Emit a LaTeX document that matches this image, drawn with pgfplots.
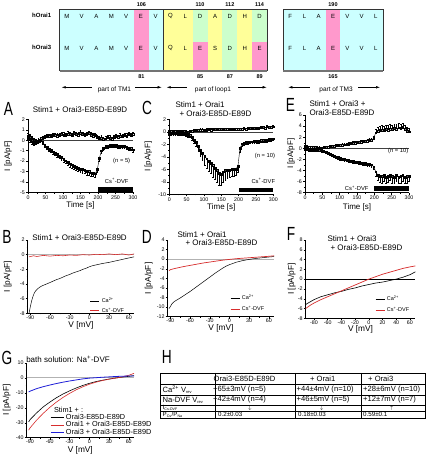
\documentclass[border=0pt]{standalone}
\usepackage{pgfplots}
\pgfplotsset{compat=1.18}
\usepackage{fontspec}
\setmainfont{Liberation Sans}
\usepackage{graphicx}
\usetikzlibrary{arrows.meta}
\definecolor{cyanbg}{RGB}{204,255,255}
\definecolor{pinkbg}{RGB}{255,153,204}
\definecolor{yelbg}{RGB}{255,255,153}
\definecolor{grnbg}{RGB}{204,255,204}
\definecolor{myred}{RGB}{215,45,45}
\definecolor{myblue}{RGB}{30,30,215}
\newcommand{\fs}[1]{\fontsize{#1}{#1}\selectfont}
\newcommand{\PL}[1]{\scalebox{0.72}[1]{\fs{19}#1}}
\pgfplotsset{
  panel/.style={scale only axis, anchor=south west, axis lines*=left,
    tick align=outside, major tick length=2pt, minor tick length=1.2pt,
    tick style={black, line width=0.4pt},
    axis line style={line width=0.5pt},
    tick label style={font=\fs{5.3}},
    label style={font=\fs{8}},
    /pgf/number format/assume math mode=true,
    xticklabel style={inner sep=1pt}, yticklabel style={inner sep=1pt},
    minor x tick num=1, minor y tick num=1,
    clip=false, ylabel={I [pA/pF]},
  },
  tc/.style={panel, xmin=0, xmax=300, xtick={0,50,...,300}, xlabel={Time [s]}},
  iv/.style={panel, xlabel={V [mV]}, label style={font=\fs{8.3}},
    xticklabel style={inner sep=1pt, yshift=1pt},
    legend cell align=left,
    legend image code/.code={\draw[##1] (0pt,0pt) -- (9pt,0pt);}},
  up/.style={black, line width=0.4pt, mark=square, mark size=0.9pt, mark options={solid, fill=white},
    error bars/.cd, y dir=plus, y explicit, error bar style={line width=0.35pt},
    error mark options={rotate=90, mark size=0.9pt, line width=0.35pt}},
  dn/.style={black, line width=0.4pt, mark=square, mark size=0.9pt, mark options={solid, fill=white},
    error bars/.cd, y dir=minus, y explicit, error bar style={line width=0.35pt},
    error mark options={rotate=90, mark size=0.9pt, line width=0.35pt}},
}
\begin{document}
\begin{tikzpicture}
\useasboundingbox (0,0) rectangle (432pt,457pt);
\fill[white] (0,0) rectangle (432pt,457pt);

% ---------------- Panel A ----------------
\begin{axis}[tc, at={(28pt,264.5pt)}, width=105pt, height=73.2pt, ymin=-5, ymax=2,
  ytick={-5,-4,...,2}, minor y tick num=0,
  ylabel style={at={([xshift=-20pt]axis description cs:0,0.5)}, anchor=center},
  xlabel style={at={([yshift=-12.5pt]axis description cs:0.5,0)}, anchor=center}]
\addplot[black!75, line width=0.4pt] coordinates {(0,0) (300,0)};
\addplot[up] table[row sep=\\, x index=0, y index=1, y error index=2]{
0 0.40 0.25\\ 6 0.30 0.25\\ 12 0.15 0.25\\ 18 0.00 0.2\\ 24 -0.10 0.2\\ 30 -0.05 0.2\\ 36 0.05 0.2\\ 42 0.20 0.2\\ 48 0.30 0.2\\ 54 0.35 0.2\\ 60 0.40 0.2\\ 66 0.35 0.2\\ 72 0.45 0.2\\ 78 0.50 0.2\\ 84 0.40 0.25\\ 90 0.45 0.2\\ 96 0.55 0.2\\ 102 0.50 0.25\\ 108 0.45 0.2\\ 114 0.60 0.25\\ 120 0.55 0.2\\ 126 0.45 0.25\\ 132 0.65 0.25\\ 138 0.55 0.2\\ 144 0.50 0.25\\ 150 0.70 0.25\\ 156 0.55 0.2\\ 162 0.45 0.25\\ 168 0.55 0.25\\ 174 0.65 0.2\\ 180 0.50 0.25\\ 186 0.40 0.25\\ 192 0.45 0.2\\ 198 0.25 0.25\\ 204 0.15 0.25\\ 210 0.20 0.25\\ 216 0.10 0.2\\ 222 0.15 0.25\\ 228 0.25 0.2\\ 234 0.20 0.25\\ 240 0.10 0.2\\ 246 0.25 0.25\\ 252 0.35 0.25\\ 258 0.30 0.2\\ 264 0.40 0.25\\ 270 0.35 0.25\\ 276 0.45 0.2\\ 282 0.40 0.25\\ 288 0.55 0.2\\ 294 0.45 0.25\\ 300 0.55 0.2\\
};
\addplot[dn] table[row sep=\\, x index=0, y index=1, y error index=2]{
0 0.20 0.2\\ 6 0.05 0.2\\ 12 -0.15 0.25\\ 18 -0.25 0.25\\ 24 -0.20 0.2\\ 30 -0.10 0.2\\ 36 0.00 0.2\\ 42 -0.20 0.2\\ 48 -0.45 0.2\\ 54 -0.65 0.2\\ 60 -0.85 0.2\\ 66 -0.95 0.2\\ 72 -1.10 0.2\\ 78 -1.25 0.2\\ 84 -1.35 0.25\\ 90 -1.50 0.25\\ 96 -1.65 0.25\\ 102 -1.85 0.25\\ 108 -1.95 0.25\\ 114 -2.10 0.25\\ 120 -2.25 0.3\\ 126 -2.35 0.3\\ 132 -2.45 0.3\\ 138 -2.60 0.3\\ 144 -2.70 0.3\\ 150 -2.75 0.35\\ 156 -2.80 0.35\\ 162 -2.90 0.3\\ 168 -3.00 0.35\\ 174 -3.00 0.3\\ 180 -3.10 0.35\\ 186 -3.15 0.3\\ 192 -3.20 0.35\\ 198 -2.80 0.3\\ 204 -1.70 0.3\\ 210 -1.00 0.25\\ 216 -0.75 0.2\\ 222 -0.60 0.2\\ 228 -0.55 0.2\\ 234 -0.50 0.2\\ 240 -0.50 0.2\\ 246 -0.45 0.2\\ 252 -0.50 0.2\\ 258 -0.55 0.2\\ 264 -0.55 0.2\\ 270 -0.60 0.2\\ 276 -0.60 0.2\\ 282 -0.70 0.2\\ 288 -0.75 0.2\\ 294 -0.80 0.2\\ 300 -0.90 0.2\\
};
\fill[black] (axis cs:200,-4.45) rectangle (axis cs:300,-4.92);
\end{axis}

% ---------------- Panel C ----------------
\begin{axis}[tc, at={(169.3pt,262.7pt)}, width=104pt, height=75pt, ymin=-10, ymax=2,
  ytick={-10,-8,...,2},
  ylabel style={at={([xshift=-21pt]axis description cs:0,0.5)}, anchor=center},
  xlabel style={at={([yshift=-12.7pt]axis description cs:0.5,0)}, anchor=center}]
\addplot[black!75, line width=0.4pt] coordinates {(0,0) (300,0)};
\addplot[up] table[row sep=\\, x index=0, y index=1, y error index=2]{
0 0.0 0.2\\ 6 0.1 0.2\\ 12 0.0 0.2\\ 18 0.1 0.2\\ 24 0.05 0.2\\ 30 0.1 0.2\\ 36 0.0 0.2\\ 42 0.1 0.2\\ 48 0.0 0.2\\ 54 -0.1 0.2\\ 60 0.0 0.2\\ 66 0.1 0.2\\ 72 0.2 0.2\\ 78 0.2 0.2\\ 84 0.25 0.2\\ 90 0.3 0.2\\ 96 0.3 0.2\\ 102 0.25 0.2\\ 108 0.3 0.2\\ 114 0.35 0.2\\ 120 0.3 0.2\\ 126 0.35 0.2\\ 132 0.4 0.2\\ 138 0.35 0.2\\ 144 0.4 0.2\\ 150 0.4 0.2\\ 156 0.35 0.2\\ 162 0.4 0.2\\ 168 0.45 0.2\\ 174 0.4 0.2\\ 180 0.45 0.2\\ 186 0.4 0.2\\ 192 0.45 0.2\\ 198 0.45 0.2\\ 204 0.4 0.2\\ 210 0.45 0.2\\ 216 0.5 0.2\\ 222 0.45 0.2\\ 228 0.5 0.2\\ 234 0.55 0.2\\ 240 0.5 0.2\\ 246 0.55 0.2\\ 252 0.6 0.2\\ 258 0.55 0.2\\ 264 0.65 0.2\\ 270 0.7 0.2\\ 276 0.6 0.2\\ 282 0.8 0.2\\ 288 0.7 0.2\\ 294 0.75 0.2\\ 300 0.8 0.2\\
};
\addplot[dn] table[row sep=\\, x index=0, y index=1, y error index=2]{
0 -0.2 0.3\\ 6 -0.3 0.3\\ 12 -0.2 0.3\\ 18 -0.3 0.3\\ 24 -0.3 0.3\\ 30 -0.2 0.3\\ 36 -0.3 0.3\\ 42 -0.3 0.3\\ 48 -0.4 0.3\\ 54 -0.5 0.3\\ 60 -0.6 0.3\\ 66 -0.9 0.4\\ 72 -1.3 0.5\\ 78 -1.7 0.6\\ 84 -2.3 0.8\\ 90 -2.9 1.0\\ 96 -3.4 1.2\\ 102 -3.9 1.4\\ 108 -4.3 1.5\\ 114 -4.7 1.6\\ 120 -5.0 1.7\\ 126 -5.4 1.8\\ 132 -5.8 1.8\\ 138 -6.2 1.9\\ 144 -6.6 1.9\\ 150 -6.8 1.8\\ 156 -6.4 1.7\\ 162 -6.2 1.5\\ 168 -6.1 1.3\\ 174 -6.1 1.2\\ 180 -6.0 1.1\\ 186 -6.0 1.1\\ 192 -6.0 1.0\\ 198 -5.5 1.0\\ 204 -2.6 0.6\\ 210 -1.9 0.4\\ 216 -1.8 0.3\\ 222 -1.7 0.3\\ 228 -1.7 0.3\\ 234 -1.6 0.3\\ 240 -1.6 0.3\\ 246 -1.5 0.3\\ 252 -1.5 0.3\\ 258 -1.5 0.3\\ 264 -1.4 0.3\\ 270 -1.4 0.3\\ 276 -1.3 0.3\\ 282 -1.3 0.3\\ 288 -1.2 0.3\\ 294 -1.2 0.3\\ 300 -1.1 0.3\\
};
\fill[black] (axis cs:200,-8.94) rectangle (axis cs:300,-9.58);
\end{axis}

% ---------------- Panel E ----------------
\begin{axis}[tc, at={(305pt,264.3pt)}, width=104pt, height=77.7pt, ymin=-8, ymax=6,
  ytick={-8,-6,...,6},
  ylabel style={at={([xshift=-14pt]axis description cs:0,0.5)}, anchor=center},
  xlabel style={at={([yshift=-14.3pt]axis description cs:0.5,0)}, anchor=center}]
\addplot[black!75, line width=0.4pt] coordinates {(0,0) (300,0)};
\addplot[up] table[row sep=\\, x index=0, y index=1, y error index=2]{
0 0.30 0.2\\ 6 0.30 0.2\\ 12 0.25 0.2\\ 18 0.25 0.2\\ 24 0.20 0.2\\ 30 0.15 0.2\\ 36 0.10 0.2\\ 42 0.10 0.2\\ 48 0.05 0.2\\ 54 0.10 0.2\\ 60 0.15 0.2\\ 66 0.25 0.2\\ 72 0.30 0.2\\ 78 0.35 0.2\\ 84 0.40 0.2\\ 90 0.45 0.25\\ 96 0.50 0.25\\ 102 0.55 0.25\\ 108 0.60 0.25\\ 114 0.65 0.25\\ 120 0.75 0.25\\ 126 0.80 0.25\\ 132 0.85 0.3\\ 138 0.90 0.3\\ 144 0.95 0.3\\ 150 1.00 0.3\\ 156 1.05 0.3\\ 162 1.15 0.3\\ 168 1.20 0.3\\ 174 1.25 0.3\\ 180 1.35 0.35\\ 186 1.40 0.35\\ 192 1.50 0.35\\ 198 1.80 0.4\\ 204 2.80 0.6\\ 210 3.10 0.7\\ 216 3.20 0.8\\ 222 3.30 0.8\\ 228 3.20 0.8\\ 234 3.40 0.8\\ 240 3.30 0.8\\ 246 3.50 0.8\\ 252 3.40 0.8\\ 258 3.60 0.8\\ 264 3.50 0.8\\ 270 3.70 0.8\\ 276 3.60 0.8\\ 282 3.80 0.8\\ 288 3.40 0.8\\ 294 3.10 0.7\\ 300 3.00 0.7\\
};
\addplot[dn] table[row sep=\\, x index=0, y index=1, y error index=2]{
0 -0.20 0.2\\ 6 -0.20 0.2\\ 12 -0.25 0.2\\ 18 -0.25 0.2\\ 24 -0.30 0.2\\ 30 -0.30 0.2\\ 36 -0.35 0.2\\ 42 -0.40 0.2\\ 48 -0.45 0.2\\ 54 -0.55 0.2\\ 60 -0.70 0.25\\ 66 -0.85 0.25\\ 72 -1.00 0.25\\ 78 -1.15 0.25\\ 84 -1.35 0.25\\ 90 -1.50 0.3\\ 96 -1.65 0.3\\ 102 -1.80 0.3\\ 108 -1.90 0.3\\ 114 -2.00 0.3\\ 120 -2.10 0.3\\ 126 -2.15 0.3\\ 132 -2.25 0.3\\ 138 -2.30 0.3\\ 144 -2.40 0.3\\ 150 -2.45 0.3\\ 156 -2.50 0.35\\ 162 -2.60 0.35\\ 168 -2.65 0.35\\ 174 -2.70 0.35\\ 180 -2.80 0.35\\ 186 -2.85 0.35\\ 192 -2.95 0.4\\ 198 -3.30 0.5\\ 204 -4.20 0.8\\ 210 -4.80 1.0\\ 216 -5.00 1.1\\ 222 -5.10 1.1\\ 228 -4.90 1.1\\ 234 -5.20 1.1\\ 240 -5.00 1.1\\ 246 -4.80 1.0\\ 252 -5.10 1.1\\ 258 -5.20 1.1\\ 264 -4.90 1.0\\ 270 -5.20 1.1\\ 276 -5.10 1.1\\ 282 -4.90 1.0\\ 288 -5.20 1.1\\ 294 -5.10 1.1\\ 300 -5.00 1.0\\
};
\fill[black] (axis cs:200,-6.85) rectangle (axis cs:300,-7.64);
\end{axis}

% ---------------- Panel B ----------------
\begin{axis}[iv, at={(27.7pt,143.7pt)}, width=106.4pt, height=73.3pt, xmin=-94, xmax=68, ymin=-8, ymax=2,
  xtick={-90,-60,...,60}, ytick={-8,-6,...,2},
  ylabel style={at={([xshift=-20pt]axis description cs:0,0.5)}, anchor=center},
  xlabel style={at={([yshift=-12pt]axis description cs:0.5,0)}, anchor=center},
  legend style={at={(0.557,0.27)}, anchor=north west, draw=none, fill=none, font=\fs{5.5}, row sep=0pt}]
\addplot[gray!60, line width=0.4pt, forget plot] coordinates {(-94,0) (68,0)};
\addplot[black, line width=0.5pt] coordinates {(-92,-8.0) (-90,-7.1) (-88,-6.3) (-86,-5.7) (-84,-5.25) (-82,-4.95) (-80,-4.75) (-76,-4.45) (-72,-4.25) (-68,-4.1) (-64,-3.95) (-60,-3.8) (-55,-3.6) (-50,-3.4) (-45,-3.25) (-40,-3.05) (-35,-2.85) (-30,-2.7) (-25,-2.5) (-20,-2.35) (-15,-2.2) (-10,-2.0) (-5,-1.85) (0,-1.65) (5,-1.5) (10,-1.4) (15,-1.3) (20,-1.2) (30,-1.05) (40,-0.85) (50,-0.65) (60,-0.45) (68,-0.3)};
\addplot[myred, line width=0.6pt] coordinates {(-92,-0.3) (-85,-0.15) (-80,-0.25) (-70,-0.1) (-60,-0.2) (-50,-0.1) (-40,-0.15) (-30,-0.05) (-20,-0.1) (-10,0.0) (0,-0.05) (10,0.05) (20,0.0) (30,0.1) (40,0.0) (50,0.1) (60,-0.05) (68,0.1)};
\addlegendentry{Ca\textsuperscript{2+}}
\addlegendentry{Cs\textsuperscript{+}-DVF}
\end{axis}

% ---------------- Panel D ----------------
\begin{axis}[iv, at={(167.7pt,140.3pt)}, width=106.4pt, height=76.7pt, xmin=-94, xmax=68, ymin=-12, ymax=4,
  xtick={-90,-60,...,60}, ytick={-12,-10,...,4},
  ylabel style={at={([xshift=-19pt]axis description cs:0,0.5)}, anchor=center},
  xlabel style={at={([yshift=-11.5pt]axis description cs:0.5,0)}, anchor=center},
  legend style={at={(0.557,0.335)}, anchor=north west, draw=none, fill=none, font=\fs{5.5}, row sep=1pt}]
\addplot[gray!60, line width=0.8pt, forget plot] coordinates {(-94,0) (68,0)};
\addplot[black, line width=0.5pt] coordinates {(-92,-10.3) (-90,-9.9) (-88,-9.4) (-86,-9.1) (-84,-8.85) (-80,-8.5) (-75,-8.1) (-70,-7.65) (-65,-7.2) (-60,-6.75) (-55,-6.25) (-50,-5.75) (-45,-5.25) (-40,-4.75) (-35,-4.25) (-30,-3.75) (-25,-3.25) (-20,-2.75) (-15,-2.3) (-10,-1.85) (-5,-1.45) (0,-1.15) (5,-0.9) (10,-0.65) (20,-0.3) (30,-0.05) (40,0.15) (50,0.3) (60,0.45) (68,0.55)};
\addplot[myred, line width=0.7pt] coordinates {(-92,-2.4) (-90,-2.2) (-85,-2.0) (-80,-1.85) (-70,-1.55) (-60,-1.3) (-50,-1.05) (-40,-0.8) (-30,-0.6) (-20,-0.4) (-10,-0.2) (0,-0.05) (10,0.1) (20,0.2) (30,0.3) (40,0.4) (50,0.5) (60,0.6) (68,0.7)};
\addlegendentry{Ca\textsuperscript{2+}}
\addlegendentry{Cs\textsuperscript{+}-DVF}
\end{axis}

% ---------------- Panel F ----------------
\begin{axis}[iv, at={(305.7pt,138.7pt)}, width=109.7pt, height=78.3pt, xmin=-92, xmax=68, ymin=-8, ymax=8,
  xtick={-80,-60,...,60}, ytick={-8,-6,...,8}, minor x tick num=0,
  ylabel style={at={([xshift=-14pt]axis description cs:0,0.5)}, anchor=center},
  xlabel style={at={([yshift=-11.5pt]axis description cs:0.5,0)}, anchor=center},
  legend style={at={(0.604,0.336)}, anchor=north west, draw=none, fill=none, font=\fs{5.5}, row sep=1pt}]
\addplot[black, line width=0.4pt, forget plot] coordinates {(-92,0) (68,0)};
\addplot[black, line width=0.6pt] coordinates {(-92,-5.2) (-90,-5.0) (-85,-4.6) (-80,-4.2) (-70,-3.6) (-60,-3.2) (-50,-2.8) (-40,-2.5) (-30,-2.1) (-20,-1.8) (-10,-1.4) (0,-1.1) (10,-0.8) (20,-0.6) (30,-0.3) (40,0.0) (50,0.4) (60,0.9) (68,1.5)};
\addplot[myred, line width=0.7pt] coordinates {(-92,-6.0) (-90,-5.8) (-85,-5.3) (-80,-4.9) (-70,-4.2) (-60,-3.6) (-50,-3.0) (-40,-2.4) (-30,-1.8) (-20,-1.2) (-10,-0.6) (0,0.0) (10,0.5) (20,1.0) (30,1.4) (40,1.8) (50,2.2) (60,2.5) (68,2.7)};
\addlegendentry{Ca\textsuperscript{2+}}
\addlegendentry{Cs\textsuperscript{+}-DVF}
\end{axis}

% ---------------- Panel G ----------------
\begin{axis}[iv, at={(26.7pt,19.3pt)}, width=107.3pt, height=75pt, xmin=-95, xmax=68, ymin=-40, ymax=10,
  xtick={-90,-60,...,60}, ytick={-40,-30,...,10},
  ylabel style={at={([xshift=-20pt]axis description cs:0,0.5)}, anchor=center},
  xlabel style={at={([yshift=-12.5pt]axis description cs:0.5,0)}, anchor=center},
  legend image code/.code={\draw[#1] (0pt,0pt) -- (13pt,0pt);},
  legend style={at={(0.217,0.345)}, anchor=north west, draw=none, fill=none, font=\fs{7.3},
    row sep=-3.4pt, inner sep=0pt}]
\addplot[gray!60, line width=0.8pt, forget plot] coordinates {(-95,0) (68,0)};
\addplot[black, line width=0.6pt] coordinates {(-92,-29.5) (-90,-28) (-80,-23.5) (-70,-19.5) (-60,-16.3) (-50,-13.4) (-40,-10.9) (-30,-8.8) (-20,-6.9) (-10,-5.2) (0,-3.8) (10,-2.6) (20,-1.7) (30,-0.9) (40,-0.2) (50,0.4) (60,0.9) (68,1.4)};
\addplot[myred, line width=0.6pt] coordinates {(-92,-35) (-90,-33.5) (-80,-28.3) (-70,-23.8) (-60,-19.8) (-50,-16.3) (-40,-13.2) (-30,-10.5) (-20,-8.1) (-10,-6.1) (0,-4.4) (10,-3.0) (20,-1.9) (30,-1.0) (40,-0.3) (50,0.5) (60,1.6) (68,2.9)};
\addplot[myblue, line width=0.8pt] coordinates {(-92,-9.5) (-90,-9) (-80,-7.3) (-70,-6) (-60,-4.9) (-50,-3.9) (-40,-3.0) (-30,-2.2) (-20,-1.5) (-10,-0.8) (0,-0.3) (10,0) (20,0.3) (30,0.55) (40,0.8) (50,1.0) (60,1.1) (68,1.2)};
\addlegendentry{Orai3-E85D-E89D}
\addlegendentry{Orai1 + Orai3-E85D-E89D}
\addlegendentry{Orai3 + Orai3-E85D-E89D}
\end{axis}

% ---------------- annotations (y measured downward) ----------------
\begin{scope}[x=1pt,y=-1pt,yshift=457pt]
% alignment boxes
\fill[cyanbg] (59.5,9.3) rectangle (163,70.7);
\fill[pinkbg] (134,9.3) rectangle (148.8,70.7);
\fill[yelbg] (163,9.3) rectangle (267,70.7);
\fill[grnbg] (192.7,9.3) rectangle (207.6,41.7);
\fill[pinkbg] (192.7,41.7) rectangle (207.6,70.7);
\fill[grnbg] (222.4,9.3) rectangle (237.3,70.7);
\fill[grnbg] (252.1,9.3) rectangle (267,41.7);
\fill[pinkbg] (252.1,41.7) rectangle (267,70.7);
\fill[cyanbg] (283,9.3) rectangle (383,70.7);
\fill[pinkbg] (325.9,9.3) rectangle (340.1,70.7);
\draw[line width=0.6pt, black!80] (59.5,9.3) rectangle (163,70.7);
\draw[line width=0.6pt, black!80] (163,9.3) rectangle (267,70.7);
\draw[line width=0.6pt, black!80] (283,9.3) rectangle (383,70.7);
\draw[line width=1.6pt, black!55] (59.5,70.9) -- (267,70.9);
\draw[line width=1.6pt, black!55] (283,70.9) -- (383,70.9);
\foreach \L [count=\i] in {M,V,A,M,V,E,V} {
  \node[font=\fs{6}] at ({59.5+14.79*(\i-0.5)},16) {\L};
  \node[font=\fs{6}] at ({59.5+14.79*(\i-0.5)},48) {\L};}
\foreach \L [count=\i] in {Q,L,D,A,D,H,D} {\node[font=\fs{6}] at ({163+14.857*(\i-0.5)},16) {\L};}
\foreach \L [count=\i] in {Q,L,E,S,D,H,E} {\node[font=\fs{6}] at ({163+14.857*(\i-0.5)},48) {\L};}
\foreach \L [count=\i] in {F,L,A,E,V,V,L} {
  \node[font=\fs{6}] at ({283+14.286*(\i-0.5)},16) {\L};
  \node[font=\fs{6}] at ({283+14.286*(\i-0.5)},48) {\L};}
\node[font=\bfseries\fs{6}] at (41.7,15.8) {hOrai1};
\node[font=\bfseries\fs{6}] at (41.7,47.8) {hOrai3};
\foreach \xx/\tt in {141.4/106,200.1/110,229.9/112,259.6/114,333/190} \node[font=\bfseries\fs{5.5}] at (\xx,4.2) {\tt};
\foreach \xx/\tt in {141.4/81,200.1/85,229.9/87,259.6/89,333/165} \node[font=\bfseries\fs{5.5}] at (\xx,76.2) {\tt};
\draw[line width=0.5pt, {Latex[length=4pt,width=2.6pt]}-] (61.7,87.3) -- (92,87.3);
\draw[line width=0.5pt, -{Latex[length=4pt,width=2.6pt]}] (135,87.3) -- (161.7,87.3);
\node[font=\fs{6.5}] at (114.5,89.5) {part of TM1};
\draw[line width=0.5pt, {Latex[length=4pt,width=2.6pt]}-] (166.7,87.3) -- (187,87.3);
\draw[line width=0.5pt, -{Latex[length=4pt,width=2.6pt]}] (238.3,87.3) -- (266.7,87.3);
\node[font=\fs{6.5}] at (213,89.5) {part of loop1};
\draw[line width=0.5pt, {Latex[length=4pt,width=2.6pt]}-] (288.3,87.3) -- (310,87.3);
\draw[line width=0.5pt, -{Latex[length=4pt,width=2.6pt]}] (358.3,87.3) -- (380,87.3);
\node[font=\fs{6.5}] at (336,89.5) {part of TM3};

% panel letters
\node at (8.5,109) {\PL{A}};
\node at (147,107.5) {\PL{C}};
\node at (290.5,105) {\PL{E}};
\node at (7,236.7) {\PL{B}};
\node at (146.7,236.7) {\PL{D}};
\node at (291,234) {\PL{F}};
\node at (7,357.5) {\PL{G}};
\node at (166.7,356.7) {\PL{H}};

% titles
\node[font=\fs{8}] at (80,110) {Stim1 + Orai3-E85D-E89D};
\node[font=\fs{8}, anchor=west] at (172,105) {Stim1 + Orai1};
\node[font=\fs{8}, anchor=west] at (176,113.5) {+ Orai3-E85D-E89D};
\node[font=\fs{8}, anchor=west] at (306,104) {Stim1 + Orai3 +};
\node[font=\fs{8}, anchor=west] at (306,113) {Orai3-E85D-E89D};
\node[font=\fs{8}] at (79.5,238) {Stim1 + Orai3-E85D-E89D};
\node[font=\fs{8}, anchor=west] at (174,235) {Stim1 + Orai1};
\node[font=\fs{8}, anchor=west] at (182,243) {+ Orai3-E85D-E89D};
\node[font=\fs{8}, anchor=west] at (324,239) {Stim1 + Orai3};
\node[font=\fs{8}, anchor=west] at (327,248) {+ Orai3-E85D-E89D};
\node[font=\fs{8}] at (68,359) {bath solution: Na\textsuperscript{+}-DVF};
\node[font=\fs{7.3}, anchor=west] at (50.5,409.8) {Stim1 + :};

% annotations in time courses
\node[font=\fs{5.8}] at (121.7,161) {(n = 5)};
\node[font=\fs{5.8}] at (116.7,180.7) {Cs\textsuperscript{+}-DVF};
\node[font=\fs{5.8}] at (265,156) {(n = 10)};
\node[font=\fs{5.8}] at (263.3,180.7) {Cs\textsuperscript{+}-DVF};
\node[font=\fs{5.8}] at (398.3,151) {(n = 10)};
\node[font=\fs{5.8}] at (356.7,188.3) {Cs\textsuperscript{+}-DVF};

% table H
\draw[line width=0.45pt] (160,373) rectangle (425,418);
\foreach \yy in {384,395,405,411.3} \draw[line width=0.45pt] (160,\yy) -- (425,\yy);
\foreach \xx in {215.7,295,361.7} \draw[line width=0.45pt] (\xx,373) -- (\xx,418);
\begin{scope}[every node/.style={font=\fs{7.6}, anchor=west, inner sep=0pt}]
\node at (213.5,378.5) {Orai3-E85D-E89D};
\node at (310,378.5) {+ Orai1};
\node at (368,378.5) {+ Orai3};
\node at (162.5,389.3) {Ca\textsuperscript{2+} V\textsubscript{\fs{4}rev}};
\node at (213,389.3) {+65±3mV (n=5)};
\node at (296.5,389.3) {+44±4mV (n=10)};
\node at (363,389.3) {+28±6mV (n=10)};
\node at (162.5,400) {Na-DVF V\textsubscript{\fs{4}rev}};
\node at (213,400) {+42±4mV (n=4)};
\node at (296.5,400) {+46±5mV (n=5)};
\node at (363,400) {+12±7mV (n=7)};
\end{scope}
\begin{scope}[every node/.style={font=\fs{6.2}, anchor=west, inner sep=0pt}]
\node at (162.5,407.6) {I\textsubscript{\fs{3.6}Cs-DVF}};
\node at (162.5,414.8) {P\textsubscript{\fs{3.6}Cs}/P\textsubscript{\fs{3.6}Na}};
\node at (218,414.8) {0.2±0.03};
\node at (298,414.8) {0.18±0.03};
\node at (363,414.8) {0.59±0.1};
\end{scope}
\node[font=\fs{5.5}, inner sep=0pt] at (250,408) {$\downarrow$};
\node[font=\fs{5.5}, inner sep=0pt] at (321.7,408) {$\downarrow$};
\node[font=\fs{5.5}, inner sep=0pt] at (391.7,408) {$\uparrow$};
\end{scope}
\end{tikzpicture}
\end{document}
